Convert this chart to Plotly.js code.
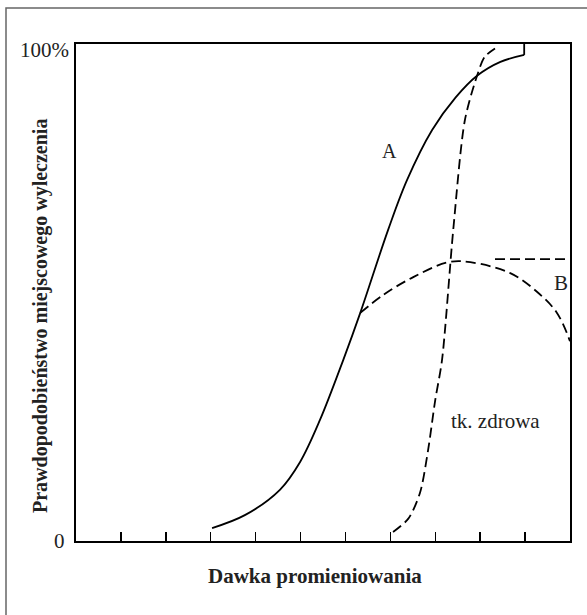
<!DOCTYPE html>
<html>
<head>
<meta charset="utf-8">
<script src="https://cdn.plot.ly/plotly-3.0.1.min.js"></script>
<style>html,body{margin:0;padding:0;background:#fff;}#chart{width:587px;height:615px;}</style>
</head>
<body>
<div id="chart"></div>
<script>
// Curve A (solid): dose vs. probability of local cure
const doseA = [3.03, 3.76, 4.54, 4.99, 5.43, 5.95, 6.33, 6.95, 7.37, 7.93, 8.45, 8.93, 9.45, 9.98];
const probA = [2.6, 5.2, 10.3, 15.9, 24.3, 36.4, 45.9, 62.6, 72.6, 82.7, 89.2, 93.6, 96.4, 97.8];
const doseAEnd = [9.98, 9.98];
const probAEnd = [97.8, 100];

// Curve B (dashed): cure without complications
const doseB = [6.33, 6.84, 7.51, 8.29, 8.78, 9.67, 10.27, 10.71, 11.0];
const probB = [45.9, 49.5, 53.1, 56.1, 56.1, 53.9, 50.1, 45.9, 40.2];
const doseBFlat = [9.33, 11.0];
const probBFlat = [56.7, 56.7];

// Healthy tissue complication curve (dashed)
const doseH = [7.06, 7.40, 7.66, 7.84, 8.00, 8.15, 8.40, 8.66, 8.93, 9.10, 9.33];
const probH = [1.8, 4.5, 9.7, 18.3, 28.4, 36.4, 62.6, 84.7, 93.6, 97.4, 99.1];

const xTicks = [1, 2, 3, 4, 5, 6, 7, 8, 9, 10];

const font = '"Liberation Serif", "Times New Roman", Times, serif';
const dash = '10px,5px';

const traces = [
  {x: doseA, y: probA, mode: 'lines', line: {color: '#000', width: 1.8, shape: 'spline', smoothing: 1}, hoverinfo: 'skip'},
  {x: doseAEnd, y: probAEnd, mode: 'lines', line: {color: '#000', width: 1.8}, hoverinfo: 'skip'},
  {x: doseB, y: probB, mode: 'lines', line: {color: '#000', width: 1.8, dash: dash, shape: 'spline'}, hoverinfo: 'skip'},
  {x: doseBFlat, y: probBFlat, mode: 'lines', line: {color: '#000', width: 1.8, dash: dash}, hoverinfo: 'skip'},
  {x: doseH, y: probH, mode: 'lines', line: {color: '#000', width: 1.8, dash: dash, shape: 'spline', smoothing: 0.8}, hoverinfo: 'skip'}
];

const txt = {family: font, size: 21, color: '#222'};
const ytitle = {family: font, size: 20, color: '#222'};

const layout = {
  width: 587, height: 615,
  margin: {l: 76, r: 17, t: 44, b: 74},
  paper_bgcolor: '#fff', plot_bgcolor: '#fff',
  showlegend: false,
  font: {family: font, color: '#222', size: 21},
  xaxis: {
    range: [0, 11], showgrid: false, zeroline: false,
    showline: true, linecolor: '#000', linewidth: 2, mirror: true,
    tickvals: xTicks, ticks: 'inside', ticklen: 9, tickwidth: 1.5, tickcolor: '#000',
    showticklabels: false
  },
  yaxis: {
    range: [0, 100], showgrid: false, zeroline: false,
    showline: true, linecolor: '#000', linewidth: 2, mirror: true,
    showticklabels: false, ticks: ''
  },
  annotations: [
    {x: -0.0101, y: 0.988, xref: 'paper', yref: 'paper', text: '100%', showarrow: false, xanchor: 'right', yanchor: 'middle', font: txt},
    {x: -0.0182, y: 0.0, xref: 'paper', yref: 'paper', text: '0', showarrow: false, xanchor: 'right', yanchor: 'middle', font: txt},
    {x: 0.4838, y: -0.0704, xref: 'paper', yref: 'paper', text: '<b>Dawka promieniowania</b>', showarrow: false, xanchor: 'center', yanchor: 'middle', font: txt},
    {x: -0.0729, y: 0.4527, xref: 'paper', yref: 'paper', text: '<b>Prawdopodobieństwo miejscowego wyleczenia</b>', showarrow: false, textangle: -90, xanchor: 'center', yanchor: 'middle', font: ytitle},
    {x: 6.98, y: 78.4, xref: 'x', yref: 'y', text: 'A', showarrow: false, font: {family: font, size: 20, color: '#222'}},
    {x: 11.0, y: 52.0, xref: 'x', yref: 'y', text: 'B', showarrow: false, xanchor: 'right', font: txt},
    {x: 9.33, y: 24.1, xref: 'x', yref: 'y', text: 'tk. zdrowa', showarrow: false, font: txt}
  ],
  shapes: [
    {type: 'rect', xref: 'paper', yref: 'paper', x0: -0.1417, x1: 1.06, y0: -0.17, y1: 1.0724,
     line: {color: '#666', width: 1.5}, fillcolor: 'rgba(0,0,0,0)', layer: 'below'}
  ]
};

Plotly.newPlot('chart', traces, layout, {displayModeBar: false, staticPlot: true});
</script>
</body>
</html>
